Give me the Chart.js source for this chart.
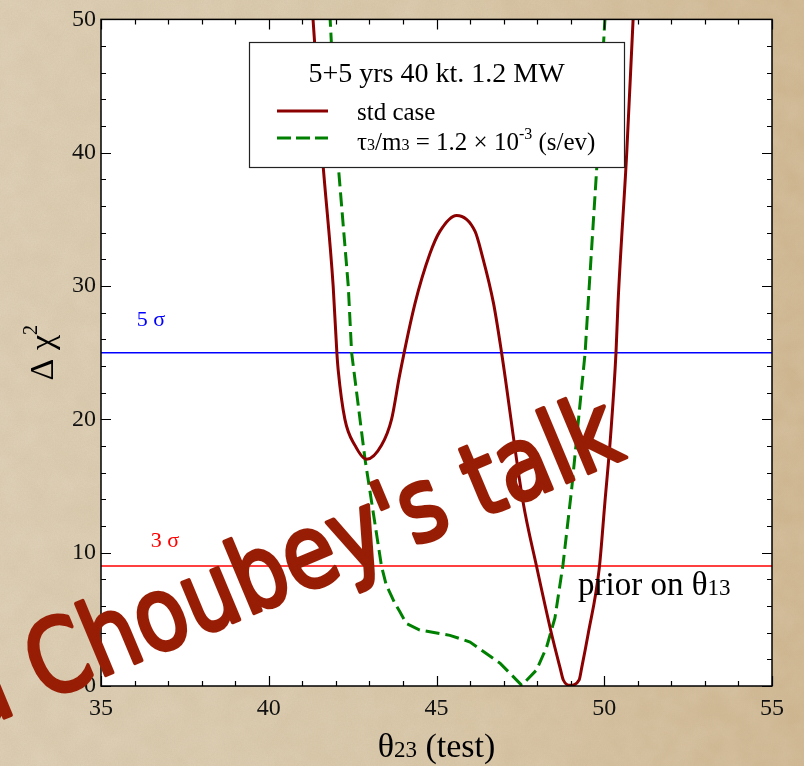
<!DOCTYPE html>
<html>
<head>
<meta charset="utf-8">
<title>Delta chi-squared vs theta23</title>
<script src="https://cdn.jsdelivr.net/npm/chart.js@4.4.1/dist/chart.umd.min.js"></script>
<style>
  html, body { margin: 0; padding: 0; }
  body {
    width: 804px;
    height: 766px;
    overflow: hidden;
    background-color: #d6c4a5;
    background-image:
      url("data:image/svg+xml;utf8,<svg xmlns='http://www.w3.org/2000/svg' width='804' height='766'><filter id='n'><feTurbulence type='fractalNoise' baseFrequency='0.7' numOctaves='2' seed='3'/><feColorMatrix values='0 0 0 0 0.5  0 0 0 0 0.4  0 0 0 0 0.25  0.22 0 0 0 0'/></filter><filter id='m'><feTurbulence type='fractalNoise' baseFrequency='0.04' numOctaves='3' seed='7'/><feColorMatrix values='0 0 0 0 1  0 0 0 0 0.96  0 0 0 0 0.88  0.18 0 0 0 -0.04'/></filter><rect width='100%' height='100%' filter='url(%23m)'/><rect width='100%' height='100%' filter='url(%23n)'/></svg>"),
      linear-gradient(90deg, #dccdb3 0%, #d8c6a7 55%, #cfb690 100%);
  }
  #wrap { position: relative; width: 804px; height: 766px; }
</style>
</head>
<body>
<div id="wrap"><canvas id="chi-chart" width="804" height="766"></canvas></div>
<script>
// ---- data ----
// std case: delta chi^2 vs test theta23 (degrees)
const stdTheta = [41.25, 41.32, 41.59, 41.92, 42.03, 42.07, 42.27, 42.57, 42.92, 43.36, 43.66, 43.9,
  44.36, 44.8, 45.1, 45.6, 46.15, 46.35, 46.7, 46.94, 47.58, 47.98, 48.43, 48.68, 48.78, 48.98,
  49.25, 49.33, 49.52, 49.85, 50.02, 50.19, 50.35, 50.41, 50.67, 50.86, 50.9];
const stdChi = [52, 50, 40, 30, 25, 23.7, 20, 18.05, 17.0, 18.05, 20, 23.3,
  28.7, 32.4, 34.1, 35.3, 34.1, 32.4, 28.7, 25, 13.8, 9, 3.9, 1.4, 0.45, 0.05,
  0.45, 1.4, 3.9, 8.8, 13.8, 18.8, 25, 28.7, 40, 50, 52];

// decay case tau3/m3 = 1.2e-3 s/eV
const tauTheta = [41.8, 41.83, 42.04, 42.37, 42.47, 42.87, 43.36, 43.5, 43.76, 43.9, 44.1, 44.5,
  45.4, 46.0, 46.9, 47.54, 47.98, 48.28, 48.53, 48.77, 49.03, 49.28, 49.43, 49.52, 49.77, 49.97,
  50.02, 50.04];
const tauChi = [52, 50, 40, 30, 25, 17, 9, 7.6, 6.2, 5.6, 4.7, 4.2,
  3.8, 3.3, 1.7, 0.05, 1.2, 2.9, 5.1, 9.1, 14.8, 21.2, 25, 28.7, 38.6, 47.8,
  50, 52];

// significance levels
const sigmaNames = ['5 σ', '3 σ'];
const sigmaLevels = [25, 9];
const sigmaColors = ['#0000ff', '#ff0000'];

const xRange = [35, 55];
const yRange = [0, 50];

const legendTitle = '5+5 yrs 40 kt. 1.2 MW';
const noteText = "a Choubey's talk";

// ---- helpers ----
const SERIF = '"Liberation Serif", "Times New Roman", serif';

function toPoints(xs, ys) {
  return xs.map((x, i) => ({ x: x, y: ys[i] }));
}

// draws a run of text pieces: [text, fontSize, yOffset]
function drawParts(ctx, parts, x, y, align) {
  let total = 0;
  parts.forEach(p => {
    ctx.font = p[1] + 'px ' + SERIF;
    total += ctx.measureText(p[0]).width;
  });
  let cx = align === 'center' ? x - total / 2 : x;
  ctx.textAlign = 'left';
  ctx.textBaseline = 'alphabetic';
  parts.forEach(p => {
    ctx.font = p[1] + 'px ' + SERIF;
    ctx.fillText(p[0], cx, y + (p[2] || 0));
    cx += ctx.measureText(p[0]).width;
  });
}

// ---- frame, ticks, labels, legend ----
const plotDecor = {
  id: 'plotDecor',
  beforeDraw(chart) {
    const { ctx, chartArea: a } = chart;
    ctx.save();
    ctx.fillStyle = '#ffffff';
    ctx.fillRect(a.left, a.top, a.right - a.left, a.bottom - a.top);
    ctx.restore();
  },
  afterDatasetsDraw(chart) {
    const { ctx, chartArea: a } = chart;
    const xs = chart.scales.x;
    const ys = chart.scales.y;
    ctx.save();

    // frame
    ctx.strokeStyle = '#000';
    ctx.lineWidth = 1.5;
    ctx.strokeRect(a.left, a.top, a.right - a.left, a.bottom - a.top);

    // inward ticks on all four sides
    ctx.lineWidth = 1.2;
    ctx.beginPath();
    for (let v = xRange[0]; v <= xRange[1]; v++) {
      const px = Math.round(xs.getPixelForValue(v)) + 0.5;
      const len = v % 5 === 0 ? 10 : 5;
      ctx.moveTo(px, a.bottom); ctx.lineTo(px, a.bottom - len);
      ctx.moveTo(px, a.top); ctx.lineTo(px, a.top + len);
    }
    for (let v = yRange[0]; v <= yRange[1]; v += 2) {
      const py = Math.round(ys.getPixelForValue(v)) + 0.5;
      const len = v % 10 === 0 ? 10 : 5;
      ctx.moveTo(a.left, py); ctx.lineTo(a.left + len, py);
      ctx.moveTo(a.right, py); ctx.lineTo(a.right - len, py);
    }
    ctx.stroke();

    // sigma labels
    ctx.fillStyle = sigmaColors[0];
    drawParts(ctx, [[sigmaNames[0], 22]], 151, ys.getPixelForValue(sigmaLevels[0]) - 27, 'center');
    ctx.fillStyle = sigmaColors[1];
    drawParts(ctx, [[sigmaNames[1], 22]], 165, ys.getPixelForValue(sigmaLevels[1]) - 19, 'center');

    // prior note
    ctx.fillStyle = '#000';
    drawParts(ctx, [['prior on θ', 33], ['13', 23]], 578, 595, 'left');

    // legend box
    const bx = 249, by = 42, bw = 375, bh = 125;
    ctx.fillStyle = '#fff';
    ctx.fillRect(bx, by, bw, bh);
    ctx.strokeStyle = '#222';
    ctx.lineWidth = 1.2;
    ctx.strokeRect(bx + 0.5, by + 0.5, bw, bh);
    ctx.fillStyle = '#000';
    drawParts(ctx, [[legendTitle, 28]], bx + bw / 2, 82, 'center');

    ctx.lineWidth = 3;
    ctx.strokeStyle = chart.data.datasets[0].borderColor;
    ctx.beginPath(); ctx.moveTo(277, 111); ctx.lineTo(328, 111); ctx.stroke();
    ctx.strokeStyle = chart.data.datasets[1].borderColor;
    ctx.setLineDash([14, 5]);
    ctx.beginPath(); ctx.moveTo(277, 138); ctx.lineTo(328, 138); ctx.stroke();
    ctx.setLineDash([]);

    ctx.fillStyle = '#000';
    drawParts(ctx, [['std case', 25]], 357, 120, 'left');
    drawParts(ctx, [['τ', 25], ['3', 16], ['/m', 25], ['3', 16], [' = 1.2 × 10', 25], ['-3', 16, -11], [' (s/ev)', 25]], 357, 150, 'left');

    // axis titles
    drawParts(ctx, [['θ', 34], ['23', 23], [' (test)', 34]], (a.left + a.right) / 2, 757, 'center');
    ctx.translate(53, (a.top + a.bottom) / 2);
    ctx.rotate(-Math.PI / 2);
    drawParts(ctx, [['Δ χ', 34], ['2', 20, -16]], 0, 0, 'center');
    ctx.restore();
  },
  afterDraw(chart) {
    // handwritten note across the plot
    const ctx = chart.ctx;
    ctx.save();
    ctx.translate(-30, 732);
    ctx.rotate(-22.7 * Math.PI / 180);
    ctx.font = '102px "DejaVu Sans"';
    ctx.textAlign = 'left';
    ctx.textBaseline = 'alphabetic';
    const w = ctx.measureText(noteText).width;
    ctx.scale(712 / w, 1);
    ctx.fillStyle = '#981d05';
    ctx.strokeStyle = '#981d05';
    ctx.lineWidth = 4;
    ctx.lineJoin = 'round';
    ctx.lineCap = 'round';
    ctx.fillText(noteText, 0, 0);
    ctx.strokeText(noteText, 0, 0);
    ctx.restore();
  }
};

// ---- chart ----
function initChart() {
  const ctx = document.getElementById('chi-chart').getContext('2d');
  const levelSets = sigmaLevels.map((lv, i) => ({
    label: sigmaNames[i],
    data: [{ x: xRange[0], y: lv }, { x: xRange[1], y: lv }],
    borderColor: sigmaColors[i],
    borderWidth: 1.5,
    pointRadius: 0
  }));

  new Chart(ctx, {
    type: 'line',
    data: {
      datasets: [
        {
          label: 'std case',
          data: toPoints(stdTheta, stdChi),
          borderColor: '#8b0000',
          borderWidth: 3,
          pointRadius: 0,
          cubicInterpolationMode: 'monotone'
        },
        {
          label: 'tau3/m3',
          data: toPoints(tauTheta, tauChi),
          borderColor: '#008000',
          borderWidth: 3,
          borderDash: [14, 6],
          pointRadius: 0,
          tension: 0
        }
      ].concat(levelSets)
    },
    options: {
      responsive: false,
      animation: false,
      events: [],
      layout: { padding: { top: 13, right: 32, left: 0, bottom: 0 } },
      plugins: { legend: { display: false }, tooltip: { enabled: false } },
      scales: {
        x: {
          type: 'linear',
          min: xRange[0],
          max: xRange[1],
          ticks: { stepSize: 5, color: '#111', padding: 8, maxRotation: 0, font: { family: SERIF, size: 24 } },
          grid: { display: false, drawTicks: false },
          border: { display: false },
          afterFit: s => { s.height = 80; }
        },
        y: {
          min: yRange[0],
          max: yRange[1],
          ticks: { stepSize: 10, color: '#111', padding: 5, font: { family: SERIF, size: 24 } },
          grid: { display: false, drawTicks: false },
          border: { display: false },
          afterFit: s => { s.width = 101; }
        }
      }
    },
    plugins: [plotDecor]
  });
}

document.addEventListener('DOMContentLoaded', initChart);
</script>
</body>
</html>
